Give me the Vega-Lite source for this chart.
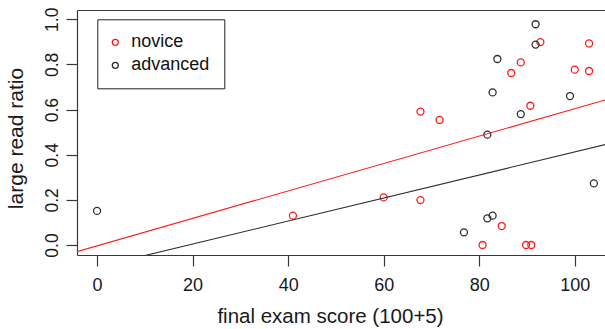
{
  "$schema": "https://vega.github.io/schema/vega-lite/v6.json",
  "width": 528,
  "height": 245,
  "autosize": {"type": "none"},
  "padding": {"left": 77, "top": 10, "right": 0, "bottom": 74},
  "background": "white",
  "config": {
    "view": {"stroke": null},
    "font": "Liberation Sans",
    "axis": {"grid": false, "domainColor": "#383838", "tickColor": "#383838", "labelColor": "#1a1a1a", "titleColor": "#1a1a1a", "labelFont": "Liberation Sans", "titleFont": "Liberation Sans", "labelFontSize": 18, "titleFontSize": 20.5, "titleFontWeight": "normal", "tickSize": 11, "domainWidth": 1.2, "tickWidth": 1.2}
  },
  "datasets": {
    "points": [
      {"group": "novice", "score": 41, "ratio": 0.13},
      {"group": "novice", "score": 60, "ratio": 0.211},
      {"group": "novice", "score": 67.7, "ratio": 0.199},
      {"group": "novice", "score": 67.7, "ratio": 0.591},
      {"group": "novice", "score": 71.7, "ratio": 0.554},
      {"group": "novice", "score": 80.7, "ratio": 0.0},
      {"group": "novice", "score": 84.7, "ratio": 0.084},
      {"group": "novice", "score": 86.7, "ratio": 0.762},
      {"group": "novice", "score": 88.7, "ratio": 0.809},
      {"group": "novice", "score": 89.8, "ratio": 0.0},
      {"group": "novice", "score": 90.9, "ratio": 0.0},
      {"group": "novice", "score": 90.7, "ratio": 0.617},
      {"group": "novice", "score": 92.8, "ratio": 0.899},
      {"group": "novice", "score": 100, "ratio": 0.777},
      {"group": "novice", "score": 103, "ratio": 0.893},
      {"group": "novice", "score": 103, "ratio": 0.771},
      {"group": "advanced", "score": 0, "ratio": 0.151},
      {"group": "advanced", "score": 76.8, "ratio": 0.056},
      {"group": "advanced", "score": 81.7, "ratio": 0.118},
      {"group": "advanced", "score": 82.8, "ratio": 0.13},
      {"group": "advanced", "score": 81.7, "ratio": 0.489},
      {"group": "advanced", "score": 82.8, "ratio": 0.676},
      {"group": "advanced", "score": 83.8, "ratio": 0.824},
      {"group": "advanced", "score": 88.7, "ratio": 0.58},
      {"group": "advanced", "score": 91.8, "ratio": 0.978},
      {"group": "advanced", "score": 91.8, "ratio": 0.888},
      {"group": "advanced", "score": 99, "ratio": 0.66},
      {"group": "advanced", "score": 104, "ratio": 0.273}
    ],
    "fits": [
      {"group": "novice", "score": -5, "ratio": -0.0339},
      {"group": "novice", "score": 110, "ratio": 0.6646},
      {"group": "advanced", "score": -5, "ratio": -0.1233},
      {"group": "advanced", "score": 110, "ratio": 0.4632}
    ]
  },
  "resolve": {"axis": {"x": "independent", "y": "independent"}},
  "layer": [
    {
      "data": {"name": "points"},
      "mark": {"type": "point", "shape": "circle", "filled": false, "size": 49, "strokeWidth": 1.3, "opacity": 1},
      "encoding": {
        "x": {"field": "score", "type": "quantitative", "scale": {"domain": [-4.2, 106.33], "nice": false, "zero": false},
              "axis": {"values": [0, 20, 40, 60, 80, 100], "title": "final exam score (100+5)", "labelBaseline": "alphabetic", "labelPadding": 24, "titleX": 253, "titleY": 67, "titleBaseline": "alphabetic", "titleAlign": "center"}},
        "y": {"field": "ratio", "type": "quantitative", "scale": {"domain": [-0.0443, 1.0412], "nice": false, "zero": false},
              "axis": {"values": [0, 0.2, 0.4, 0.6, 0.8, 1.0], "format": ".1f", "title": "large read ratio", "labelAngle": -90, "labelAlign": "center", "labelBaseline": "alphabetic", "labelPadding": 9, "labelFontSize": 17.5, "titleX": -55, "titleY": 128, "titleBaseline": "alphabetic", "titleAlign": "center", "titleAngle": -90, "titleFontSize": 21}},
        "color": {"field": "group", "type": "nominal", "scale": {"domain": ["novice", "advanced"], "range": ["#ff1a1a", "#2e2e2e"]},
                  "legend": {"title": null, "orient": "none", "legendX": 20.3, "legendY": 9.3, "strokeColor": "#222", "fillColor": "white", "padding": 14, "labelFontSize": 18, "labelFont": "Liberation Sans", "labelColor": "#111", "symbolType": "circle", "symbolSize": 36, "symbolStrokeWidth": 1.3, "symbolFillColor": "transparent", "symbolOffset": -5, "labelOffset": 7, "rowPadding": 5, "labelLimit": 200}}
      }
    },
    {
      "data": {"name": "fits"},
      "mark": {"type": "line", "strokeWidth": 1.1, "clip": true},
      "encoding": {
        "x": {"field": "score", "type": "quantitative", "axis": {"orient": "top", "labels": false, "ticks": false, "title": null, "domain": true}},
        "y": {"field": "ratio", "type": "quantitative", "axis": null},
        "detail": {"field": "group"},
        "color": {"field": "group", "type": "nominal", "legend": null}
      }
    }
  ]
}
